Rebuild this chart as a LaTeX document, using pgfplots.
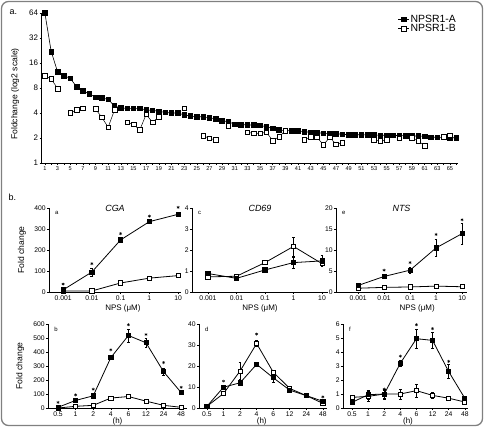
\documentclass[border=0pt]{standalone}
\usepackage{pgfplots}
\pgfplotsset{compat=1.18}
\usepackage{pgfplotstable}
\usepackage{fontspec}
\setmainfont{Liberation Sans}

\pgfplotstableread{
x A B
1 64 11.2
2 22 10.3
3 12.6 7.9
4 11.2 nan
5 10.5 4.0
6 8.3 4.35
7 7.4 4.55
8 6.8 nan
9 6.2 4.47
10 6.05 3.55
11 5.85 2.69
12 4.85 4.35
13 4.6 nan
14 4.55 3.09
15 4.55 2.92
16 4.55 2.5
17 4.35 3.86
18 4.3 3.09
19 4.2 3.6
20 4.07 nan
21 4.0 nan
22 4.0 nan
23 3.8 4.55
24 3.68 nan
25 3.6 nan
26 3.6 2.13
27 3.5 1.98
28 3.4 1.89
29 3.23 nan
30 3.14 2.8
31 2.92 nan
32 2.9 nan
33 2.88 2.34
34 2.86 2.28
35 2.84 2.28
36 2.73 2.34
37 2.62 1.86
38 2.5 2.07
39 2.45 2.45
40 2.45 nan
41 2.44 nan
42 2.38 1.89
43 2.34 2.07
44 2.32 2.04
45 2.28 1.65
46 2.26 2.04
47 2.25 1.68
48 2.22 1.76
49 2.19 nan
50 2.19 nan
51 2.19 nan
52 2.18 nan
53 2.17 1.89
54 2.16 1.84
55 2.16 1.89
56 2.15 nan
57 2.14 1.98
58 2.13 nan
59 2.12 2.0
60 2.11 1.84
61 2.1 1.62
62 2.05 nan
63 2.04 nan
64 2.03 2.07
65 2.02 2.15
66 2.01 nan
}\tabA

% CGA
\pgfplotstableread{
x A eA B eB S
0 10 5 5 2 38
1 95 18 5 2 135
2 248 10 43 5 278
3 335 8 66 5 361
4 370 8 78 5 403
}\tabCGA
% CD69
\pgfplotstableread{
x A eA B eB
0 0.88 0.08 0.72 0.05
1 0.65 0.05 0.75 0.05
2 1.05 0.05 1.4 0.05
3 1.4 0.25 2.17 0.45
4 1.48 0.25 1.35 0.1
}\tabCD
% NTS
\pgfplotstableread{
x A eA B eB S
0 1.56 0.2 0.9 0.1 nan
1 3.7 0.4 1.1 0.1 5.2
2 5.2 0.8 1.2 0.1 7.0
3 10.5 2.0 1.4 0.15 13.7
4 13.9 2.5 1.25 0.1 17.2
}\tabNTS
% CGA time
\pgfplotstableread{
x A eA B eB S
0 5 3 0 1 40
1 54 8 12 2 94
2 87 10 19 3 134
3 360 15 71 5 416
4 518 45 82 6 595
5 466 30 49 5 525
6 259 25 19 3 325
7 110 15 5 2 148
}\tabB
% CD69 time
\pgfplotstableread{
x A eA B eB S
0 0.8 0.3 0.8 0.3 nan
1 9.9 1 6.9 1 12.8
2 12 1 17.6 4 nan
3 20.8 0.8 30.7 1.5 35.2
4 14.4 2 17.1 1 nan
5 8.5 1 9.3 0.8 nan
6 5.9 0.5 5.9 0.5 nan
7 3.2 0.5 2.2 0.5 5.3
}\tabD
% NTS time
\pgfplotstableread{
x A eA B eB S
0 0.4 0.1 0.76 0.1 nan
1 0.95 0.3 0.83 0.35 nan
2 1.0 0.3 1.0 0.35 1.36
3 3.2 0.2 1.0 0.35 3.7
4 4.95 0.7 1.24 0.45 5.95
5 4.83 0.55 0.9 0.2 5.67
6 2.6 0.5 0.7 0.15 3.33
7 0.7 0.1 0.43 0.1 nan
}\tabF

\newcommand\fs[1]{\fontsize{#1}{#1}\selectfont}

\pgfplotsset{
  sub/.style={scale only axis, anchor=south west, clip=false,
    axis lines=left, axis line style={-, line width=0.6bp},
    tick align=outside, major tick length=2.2bp,
    tick style={line width=0.5bp, black},
    ymin=0, /pgf/number format/assume math mode=true,
    ticklabel style={font=\fs{6.8}, inner sep=1pt},
    xlabel style={font=\fs{8}},
    ylabel style={font=\fs{8.6}},
    title style={font=\fs{9}\itshape},
  },
  row1/.style={sub, height=84bp, xtick={0,...,4}, xticklabels={0.001,0.01,0.1,1,10},
    xlabel={NPS (μM)}},
  row2/.style={sub, height=84bp, xtick={0,...,7}, xticklabels={0.5,1,2,4,6,12,24,48},
    xlabel={(h)}},
  fA/.style={black, line width=0.8bp, mark=square*, mark size=2.1bp, mark options={solid, fill=black}},
  oB/.style={black, line width=0.8bp, mark=square*, mark size=2.1bp, mark options={solid, fill=white}},
  eb/.style={error bars/.cd, y dir=both, y explicit, error bar style={line width=0.5bp},
    error mark options={rotate=90, mark size=1.4bp, line width=0.5bp}},
  star/.style={only marks, black, mark=asterisk, mark size=1.5bp, mark options={line width=0.45bp}},
}

\begin{document}
\begin{tikzpicture}
\path[use as bounding box] (0,0) rectangle (484bp,427bp);
\draw[black!50, line width=1.3bp, rounded corners=7bp] (1.5bp,1.5bp) rectangle (482.5bp,425.5bp);
\node[anchor=west, font=\fs{9}] at (6bp,415bp) {a.};
\node[anchor=west, font=\fs{9}] at (5bp,230bp) {b.};

% ---------------- panel a ----------------
\begin{axis}[scale only axis, anchor=south west, at={(41.7bp,264bp)},
  width=416.5bp, height=150bp,
  xmin=0.5, xmax=66.3, ymode=log, log basis y=2, ymin=1, ymax=64,
  axis lines=left, axis line style={-, line width=0.6bp},
  tick align=outside, major tick length=2bp, minor tick length=2bp,
  tick style={line width=0.5bp, black},
  xtick={1,3,...,65}, minor xtick={2,4,...,66},
  ytick={1,2,4,8,16,32,64}, yticklabels={1,2,4,8,16,32,64}, yminorticks=false,
  /pgf/number format/assume math mode=true,
  xticklabel style={font=\fs{5.6}, inner sep=1pt},
  yticklabel style={font=\fs{8}, inner sep=1.5pt},
  ylabel={Foldchange (log2 scale)},
  ylabel style={font=\fs{8.6}, at={(axis description cs:-0.064,0.46)}, anchor=center, rotate=0},
  clip=false, unbounded coords=jump,
  legend style={at={(0.855,0.995)}, anchor=north west, draw=none, fill=none,
    font=\fs{10.5}, row sep=-1.5bp, inner sep=0pt,
    nodes={inner sep=1pt}},
  legend cell align=left,
  legend image code/.code={\draw[#1, mark repeat=2, mark phase=2] plot coordinates {(0,0) (5.5bp,0) (11bp,0)};},
]
\addplot[black, line width=0.6bp, mark=square*, mark size=2.3bp, mark options={fill=black}] table[x=x,y=A]{\tabA};
\addplot[black, line width=0.5bp, mark=square*, mark size=2.3bp, mark options={fill=white}] table[x=x,y=B]{\tabA};
\legend{NPSR1-A,NPSR1-B}
\end{axis}

% ---------------- row 1 ----------------
\begin{axis}[row1, at={(49bp,135bp)}, width=132bp, xmin=-0.49, xmax=4.1,
  ymax=400, ytick={0,100,...,400},
  ylabel={Fold change}, ylabel style={at={(axis description cs:-0.205,0.5)}, anchor=center},
  xlabel style={at={(axis description cs:0.56,-0.19)}, anchor=center}]
\addplot[oB, eb] table[x=x,y=B,y error=eB]{\tabCGA};
\addplot[fA, eb] table[x=x,y=A,y error=eA]{\tabCGA};
\addplot[star] table[x=x,y=S]{\tabCGA};
\node[font=\fs{9}\itshape, anchor=center] at (axis description cs:0.5,0.995) {CGA};
\node[font=\fs{6}, anchor=north west] at (axis description cs:0.02,1.0) {a};
\end{axis}

\begin{axis}[row1, at={(192bp,135bp)}, width=136bp, xmin=-0.56, xmax=4.21,
  ymax=4, ytick={0,1,...,4},
  xlabel style={at={(axis description cs:0.5,-0.19)}, anchor=center}]
\addplot[oB, eb] table[x=x,y=B,y error=eB]{\tabCD};
\addplot[fA, eb] table[x=x,y=A,y error=eA]{\tabCD};
\node[font=\fs{9}\itshape, anchor=center] at (axis description cs:0.5,0.995) {CD69};
\node[font=\fs{6}, anchor=north west] at (axis description cs:0.02,1.0) {c};
\end{axis}

\begin{axis}[row1, at={(336bp,135bp)}, width=131bp, xmin=-0.85, xmax=4.19,
  ymax=20, ytick={0,5,...,20},
  xlabel style={at={(axis description cs:0.62,-0.19)}, anchor=center}]
\addplot[oB, eb] table[x=x,y=B,y error=eB]{\tabNTS};
\addplot[fA, eb] table[x=x,y=A,y error=eA]{\tabNTS};
\addplot[star] table[x=x,y=S]{\tabNTS};
\node[font=\fs{9}\itshape, anchor=center] at (axis description cs:0.5,0.995) {NTS};
\node[font=\fs{6}, anchor=north west] at (axis description cs:0.02,1.0) {e};
\end{axis}

% ---------------- row 2 ----------------
\begin{axis}[row2, at={(48bp,19bp)}, width=139bp, xmin=-0.57, xmax=7.33,
  ymax=600, ytick={0,100,...,600},
  ylabel={Fold change}, ylabel style={at={(axis description cs:-0.2,0.5)}, anchor=center},
  xlabel style={at={(axis description cs:0.5,-0.165)}, anchor=center}]
\addplot[oB, eb] table[x=x,y=B,y error=eB]{\tabB};
\addplot[fA, eb] table[x=x,y=A,y error=eA]{\tabB};
\addplot[star] table[x=x,y=S]{\tabB};
\node[font=\fs{6}, anchor=north west] at (axis description cs:0.02,1.0) {b};
\end{axis}

\begin{axis}[row2, at={(199bp,19bp)}, width=128bp, xmin=-0.48, xmax=7.25,
  ymax=40, ytick={0,10,...,40},
  xlabel style={at={(axis description cs:0.49,-0.165)}, anchor=center}]
\addplot[oB, eb] table[x=x,y=B,y error=eB]{\tabD};
\addplot[fA, eb] table[x=x,y=A,y error=eA]{\tabD};
\addplot[star] table[x=x,y=S]{\tabD};
\node[font=\fs{6}, anchor=north west] at (axis description cs:0.02,1.0) {d};
\end{axis}

\begin{axis}[row2, at={(343bp,19bp)}, width=125bp, xmin=-0.56, xmax=7.2,
  ymax=6, ytick={0,1,...,6},
  xlabel style={at={(axis description cs:0.52,-0.165)}, anchor=center}]
\addplot[oB, eb] table[x=x,y=B,y error=eB]{\tabF};
\addplot[fA, eb] table[x=x,y=A,y error=eA]{\tabF};
\addplot[star] table[x=x,y=S]{\tabF};
\node[font=\fs{6}, anchor=north west] at (axis description cs:0.02,1.0) {f};
\end{axis}
\end{tikzpicture}
\end{document}
